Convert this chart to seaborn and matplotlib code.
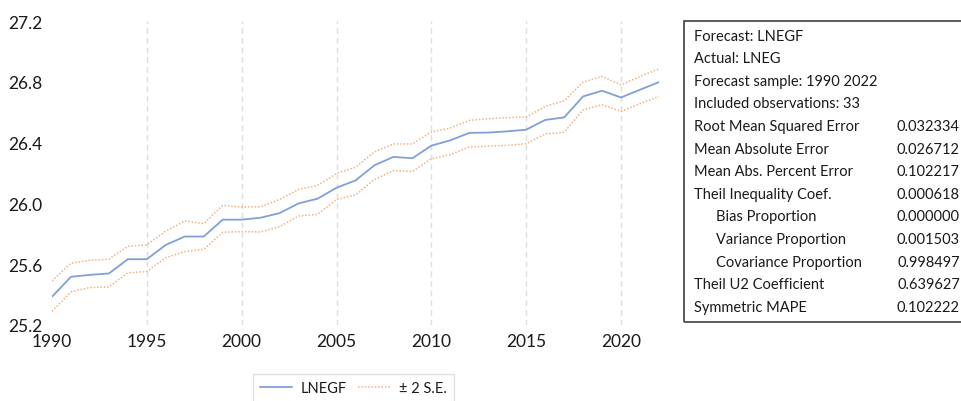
import numpy as np
import pandas as pd
import matplotlib
matplotlib.use("Agg")
import matplotlib.pyplot as plt
import seaborn as sns
from matplotlib.patches import Rectangle

years = list(range(1990, 2023))
lnegf = [25.386, 25.517, 25.530, 25.539, 25.633, 25.633, 25.727, 25.782, 25.782, 25.893,
         25.893, 25.906, 25.936, 26.000, 26.031, 26.103, 26.151, 26.251, 26.306, 26.297,
         26.380, 26.415, 26.464, 26.466, 26.474, 26.485, 26.549, 26.566, 26.704, 26.741,
         26.697, 26.748, 26.798]
upper = [25.490, 25.607, 25.626, 25.633, 25.718, 25.727, 25.818, 25.884, 25.867, 25.987,
         25.976, 25.978, 26.026, 26.092, 26.118, 26.197, 26.238, 26.339, 26.391, 26.391,
         26.470, 26.496, 26.546, 26.557, 26.564, 26.568, 26.638, 26.675, 26.798, 26.835,
         26.780, 26.835, 26.885]
lower = [25.290, 25.418, 25.447, 25.450, 25.543, 25.552, 25.643, 25.683, 25.698, 25.810,
         25.814, 25.812, 25.847, 25.917, 25.928, 26.026, 26.055, 26.158, 26.216, 26.210,
         26.293, 26.321, 26.372, 26.376, 26.382, 26.393, 26.457, 26.468, 26.616, 26.649,
         26.605, 26.656, 26.704]
y_ticks = [25.2, 25.6, 26.0, 26.4, 26.8, 27.2]
x_ticks = [1990, 1995, 2000, 2005, 2010, 2015, 2020]
grid_years = [1995, 2000, 2005, 2010, 2015, 2020]

stat_labels = ["Forecast: LNEGF", "Actual: LNEG", "Forecast sample: 1990 2022",
               "Included observations: 33", "Root Mean Squared Error", "Mean Absolute Error",
               "Mean Abs. Percent Error", "Theil Inequality Coef.", "Bias Proportion",
               "Variance Proportion", "Covariance Proportion", "Theil U2 Coefficient",
               "Symmetric MAPE"]
stat_values = ["", "", "", "", "0.032334", "0.026712", "0.102217", "0.000618", "0.000000",
               "0.001503", "0.998497", "0.639627", "0.102222"]
stat_indent = [False] * 8 + [True, True, True] + [False, False]

sns.set_theme(style="white")
plt.rcParams["font.family"] = ["Lato", "DejaVu Sans"]

df = pd.DataFrame({"year": years, "LNEGF": lnegf, "upper": upper, "lower": lower})

fig = plt.figure(figsize=(9.62, 4.02), dpi=100)
ax = fig.add_axes([52 / 962, 1 - 326 / 402, (659 - 52) / 962, (326 - 22) / 402])

blue = "#819fd8"
orange = "#f4b183"
sns.lineplot(data=df, x="year", y="LNEGF", ax=ax, color=blue, lw=1.3, label="LNEGF")
sns.lineplot(data=df, x="year", y="upper", ax=ax, color=orange, lw=1.1,
             linestyle=(0, (1, 1.2)), label="± 2 S.E.")
sns.lineplot(data=df, x="year", y="lower", ax=ax, color=orange, lw=1.1,
             linestyle=(0, (1, 1.2)), label="_nolegend_")

for gx in grid_years:
    ax.axvline(gx, color="#dedede", lw=1, linestyle=(0, (4, 3)), zorder=0)

ax.set_xlim(1990, 2022)
ax.set_ylim(25.2, 27.2)
ax.set_xticks(x_ticks)
ax.set_xticklabels([str(v) for v in x_ticks])
ax.set_yticks(y_ticks)
ax.set_yticklabels([f"{v:.1f}" for v in y_ticks])
ax.tick_params(axis="both", labelsize=12.5, colors="#1a1a1a", length=0)
ax.tick_params(axis="y", pad=7)
ax.tick_params(axis="x", pad=6)
ax.set_xlabel("")
ax.set_ylabel("")
for s in ax.spines.values():
    s.set_visible(False)

leg = ax.legend(loc="upper left", bbox_to_anchor=(253 / 962, 1 - 375 / 402),
                bbox_transform=fig.transFigure, borderaxespad=0, ncol=2, fontsize=10.5,
                frameon=True, fancybox=False, edgecolor="#d9d9d9", handlelength=2.2,
                columnspacing=0.75, handletextpad=0.6, borderpad=0.5)
leg.get_frame().set_linewidth(1.0)
for t in leg.get_texts():
    t.set_color("#1a1a1a")

# statistics box
rect = Rectangle((684 / 962, 1 - 323 / 402), (990 - 684) / 962, (323 - 22) / 402,
                 transform=fig.transFigure, fill=False, edgecolor="#404040", lw=1.2,
                 clip_on=False)
fig.patches.append(rect)
y0 = 36.7
dy = 22.6
for i, (lab, val, ind) in enumerate(zip(stat_labels, stat_values, stat_indent)):
    yy = 1 - (y0 + i * dy) / 402
    fig.text((716 if ind else 694) / 962, yy, lab, fontsize=10.5, color="#1a1a1a",
             ha="left", va="center")
    if val:
        fig.text(960 / 962, yy, val, fontsize=10.5, color="#1a1a1a", ha="right", va="center")

fig.savefig("out.png", dpi=100)
